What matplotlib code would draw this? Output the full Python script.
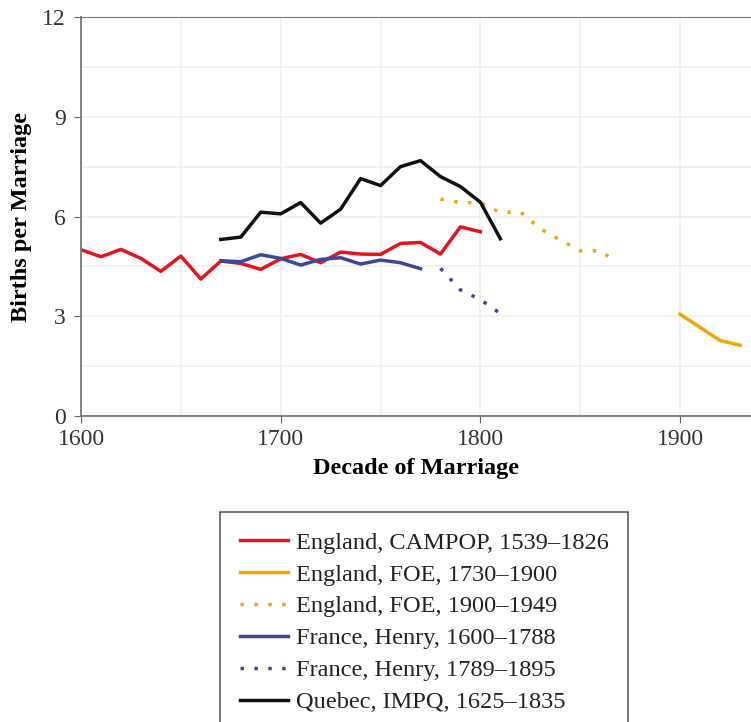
import matplotlib
matplotlib.use('Agg')
import matplotlib.pyplot as plt
from matplotlib.ticker import MultipleLocator

plt.rcParams['font.family'] = ['Liberation Serif', 'DejaVu Serif']

# England, CAMPOP
eng_campop_x = [1600, 1610, 1620, 1630, 1640, 1650, 1660, 1670, 1680, 1690, 1700,
                1710, 1720, 1730, 1740, 1750, 1760, 1770, 1780, 1790, 1800]
eng_campop_y = [5.0, 4.79, 5.01, 4.74, 4.35, 4.81, 4.12, 4.66, 4.59, 4.41, 4.73,
                4.86, 4.61, 4.93, 4.87, 4.86, 5.19, 5.22, 4.87, 5.69, 5.54]

# England, FOE (solid)
eng_foe_x = [1900, 1920, 1930]
eng_foe_y = [3.06, 2.27, 2.13]

# England, FOE (dotted)
eng_foe2_x = [1780, 1790, 1800, 1810, 1820, 1830, 1840, 1850, 1860, 1866]
eng_foe2_y = [6.52, 6.42, 6.41, 6.12, 6.14, 5.63, 5.29, 4.97, 4.97, 4.72]

# France, Henry
fra_x = [1670, 1680, 1690, 1700, 1710, 1720, 1730, 1740, 1750, 1760, 1770]
fra_y = [4.67, 4.64, 4.85, 4.74, 4.54, 4.71, 4.76, 4.57, 4.69, 4.61, 4.43]

fra2_x = [1780, 1790, 1800, 1810]
fra2_y = [4.44, 3.79, 3.50, 3.08]

# Quebec, IMPQ
que_x = [1670, 1680, 1690, 1700, 1710, 1720, 1730, 1740, 1750, 1760, 1770,
         1780, 1790, 1800, 1810]
que_y = [5.31, 5.38, 6.13, 6.08, 6.42, 5.80, 6.22, 7.14, 6.93, 7.50, 7.68,
         7.20, 6.90, 6.43, 5.33]

labels = ['England, CAMPOP, 1539\u20131826', 'England, FOE, 1730\u20131900',
          'England, FOE, 1900\u20131949', 'France, Henry, 1600\u20131788',
          'France, Henry, 1789\u20131895', 'Quebec, IMPQ, 1625\u20131835']

red = '#e3141e'
orange = '#f6a400'
blue = '#3a4899'
black = '#111111'
dots = (0, (1, 3))

fig = plt.figure(figsize=(7.51, 7.22), dpi=100)
ax = fig.add_axes([81 / 751, 1 - 416 / 722, 1 - 81 / 751, (416 - 17) / 722])

lw = 2.5
h1, = ax.plot(eng_campop_x, eng_campop_y, color=red, lw=lw)
h2, = ax.plot(eng_foe_x, eng_foe_y, color=orange, lw=lw)
h3, = ax.plot(eng_foe2_x, eng_foe2_y, color=orange, lw=lw, linestyle=dots)
h4, = ax.plot(fra_x, fra_y, color=blue, lw=lw)
h5, = ax.plot(fra2_x, fra2_y, color=blue, lw=lw, linestyle=dots)
h6, = ax.plot(que_x, que_y, color=black, lw=lw)

ax.set_xlim(1600, 1935.5)
ax.set_ylim(0, 12)
ax.xaxis.set_major_locator(MultipleLocator(100))
ax.xaxis.set_minor_locator(MultipleLocator(50))
ax.yaxis.set_major_locator(MultipleLocator(3))
ax.yaxis.set_minor_locator(MultipleLocator(1.5))
ax.grid(which='both', color='#ededed', lw=1.1)
ax.set_axisbelow(True)
ax.tick_params(which='minor', length=0)
ax.tick_params(which='major', length=5, color='#666666', labelsize=17,
               labelcolor='#333333')
ax.tick_params(axis='x', pad=4)
ax.tick_params(axis='y', pad=6)
ax.spines['right'].set_visible(False)
ax.spines['top'].set_color('#777777')
for side in ['left', 'bottom']:
    ax.spines[side].set_color('#777777')
    ax.spines[side].set_linewidth(1.3)

ax.set_xlabel('Decade of Marriage', fontsize=17.5, fontweight='bold', labelpad=6)
ax.set_ylabel('Births per Marriage', fontsize=17.5, fontweight='bold', labelpad=7)

leg = fig.legend([h1, h2, h3, h4, h5, h6], labels, loc='upper left',
                 bbox_to_anchor=(220 / 751, 1 - 512 / 722), fontsize=17.6,
                 frameon=True, fancybox=False, handlelength=2.0,
                 handletextpad=0.3, borderpad=0.8, labelspacing=0.4,
                 borderaxespad=0)
leg.get_frame().set_edgecolor('#333333')
leg.get_frame().set_linewidth(1.2)
for t in leg.get_texts():
    t.set_color('#222222')

plt.savefig('out.png')
